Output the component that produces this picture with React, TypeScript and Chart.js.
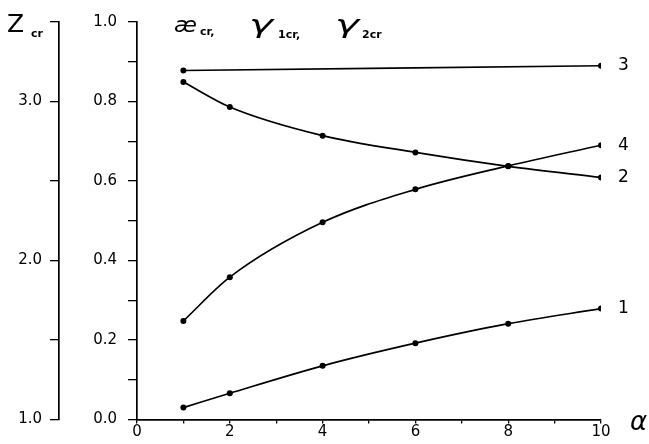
import React, { useEffect, useRef } from 'react';
import { Chart, registerables } from 'chart.js';

Chart.register(...registerables);

// ---- data ----
const alphaValues = [1, 2, 4, 6, 8, 10];
const curve1 = [0.030, 0.066, 0.135, 0.192, 0.241, 0.279];
const curve2 = [0.849, 0.786, 0.714, 0.672, 0.637, 0.609];
const curve3Alpha = [1, 10];
const curve3 = [0.878, 0.890];
const curve4 = [0.248, 0.358, 0.496, 0.579, 0.638, 0.690];
const curveNames = ['1', '2', '3', '4'];
const xTickValues = [0, 2, 4, 6, 8, 10];
const yTickValues = [0.0, 0.2, 0.4, 0.6, 0.8, 1.0];
const zTickValues = [1.0, 2.0, 3.0];

const FONT = 'DejaVu Sans';

const toPoints = (xs: number[], ys: number[]) => xs.map((x, i) => ({ x, y: ys[i] }));

const drawStretched = (ctx: CanvasRenderingContext2D, text: string, x: number, y: number, sx: number) => {
  ctx.save();
  ctx.translate(x, y);
  ctx.scale(sx, 1);
  ctx.fillText(text, 0, 0);
  ctx.restore();
};

const annotationPlugin = {
  id: 'annotations',
  afterDraw(chart: any) {
    const ctx = chart.ctx;
    const xs = chart.scales.x;
    const ys = chart.scales.y;
    ctx.save();
    ctx.fillStyle = '#000';
    ctx.textBaseline = 'middle';
    ctx.textAlign = 'left';

    // curve end labels
    ctx.font = `17px ${FONT}`;
    chart.data.datasets.forEach((ds: any) => {
      const last = ds.data[ds.data.length - 1];
      const px = xs.getPixelForValue(last.x) + 17;
      const py = ys.getPixelForValue(last.y);
      ctx.fillText(ds.label, px, py);
    });

    // x-axis title alpha
    ctx.font = `italic 26px ${FONT}`;
    ctx.fillText('α', xs.right + 29, xs.top + 4);

    // left axis title Z_cr
    ctx.textBaseline = 'alphabetic';
    ctx.font = `25px ${FONT}`;
    ctx.fillText('Z', 7, 32);
    ctx.font = `bold 11px ${FONT}`;
    ctx.fillText('cr', 31, 37);

    // top title
    ctx.font = `italic 22px ${FONT}`;
    drawStretched(ctx, 'æ', 174, 32, 1.05);
    ctx.font = `italic 24px ${FONT}`;
    drawStretched(ctx, 'γ', 249, 33, 1.7);
    drawStretched(ctx, 'γ', 335, 33, 1.7);
    ctx.font = `bold 11px ${FONT}`;
    ctx.fillText('cr,', 200, 35);
    ctx.fillText('1cr,', 278, 38);
    ctx.fillText('2cr', 362, 38);
    ctx.restore();
  },
};

export default function App() {
  const canvasRef = useRef<HTMLCanvasElement | null>(null);

  useEffect(() => {
    if (!canvasRef.current) return;
    const lineStyle = {
      borderColor: '#000',
      backgroundColor: '#000',
      borderWidth: 1.7,
      pointRadius: 3,
      pointBorderWidth: 0,
      pointBackgroundColor: '#000',
      cubicInterpolationMode: 'monotone' as const,
      fill: false,
      xAxisID: 'x',
      yAxisID: 'y',
    };
    const tickFont = { family: FONT, size: 15 };
    const chart = new Chart(canvasRef.current, {
      type: 'line',
      data: {
        datasets: [
          { ...lineStyle, label: curveNames[0], data: toPoints(alphaValues, curve1) },
          { ...lineStyle, label: curveNames[1], data: toPoints(alphaValues, curve2) },
          { ...lineStyle, label: curveNames[2], data: toPoints(curve3Alpha, curve3) },
          { ...lineStyle, label: curveNames[3], data: toPoints(alphaValues, curve4) },
        ],
      },
      options: {
        animation: false,
        responsive: false,
        maintainAspectRatio: false,
        layout: { padding: { top: 22, right: 48, bottom: 0, left: 0 } },
        plugins: { legend: { display: false }, tooltip: { enabled: false }, title: { display: false } },
        scales: {
          x: {
            type: 'linear',
            position: 'bottom',
            min: 0,
            max: 10,
            afterFit: (s: any) => { s.height = 24.5; },
            border: { display: true, color: '#000', width: 1.7 },
            grid: { drawOnChartArea: false, drawTicks: true, tickLength: 4, color: '#000', lineWidth: 1.3 },
            ticks: {
              stepSize: 1,
              padding: 0,
              color: '#000',
              font: tickFont,
              maxRotation: 0,
              autoSkip: false,
              callback: (v: any) => (xTickValues.includes(Number(v)) ? String(v) : ''),
            },
          },
          y: {
            type: 'linear',
            position: 'left',
            weight: 0,
            min: 0,
            max: 1,
            afterFit: (s: any) => { s.width = 78; },
            border: { display: true, color: '#000', width: 1.7 },
            grid: { drawOnChartArea: false, drawTicks: true, tickLength: 9, color: '#000', lineWidth: 1.3 },
            ticks: {
              stepSize: 0.1,
              padding: 11,
              color: '#000',
              font: tickFont,
              autoSkip: false,
              callback: (v: any) => {
                const n = Math.round(Number(v) * 10) / 10;
                return yTickValues.some((t) => Math.abs(t - n) < 1e-6) ? n.toFixed(1) : '';
              },
            },
          },
          z: {
            type: 'linear',
            position: 'left',
            weight: 1,
            min: 1,
            max: 3.5,
            afterFit: (s: any) => { s.width = 59; },
            border: { display: true, color: '#000', width: 1.7 },
            grid: { drawOnChartArea: false, drawTicks: true, tickLength: 9, color: '#000', lineWidth: 1.3 },
            ticks: {
              stepSize: 0.5,
              padding: 8,
              color: '#000',
              font: tickFont,
              autoSkip: false,
              callback: (v: any) => {
                const n = Math.round(Number(v) * 10) / 10;
                return zTickValues.some((t) => Math.abs(t - n) < 1e-6) ? n.toFixed(1) : '';
              },
            },
          },
        },
      },
      plugins: [annotationPlugin],
    });
    return () => chart.destroy();
  }, []);

  return (
    <div style={{ position: 'absolute', left: 0, top: 0, width: 649, height: 444, background: '#fff' }}>
      <canvas ref={canvasRef} width={649} height={444} style={{ width: 649, height: 444 }} />
    </div>
  );
}
